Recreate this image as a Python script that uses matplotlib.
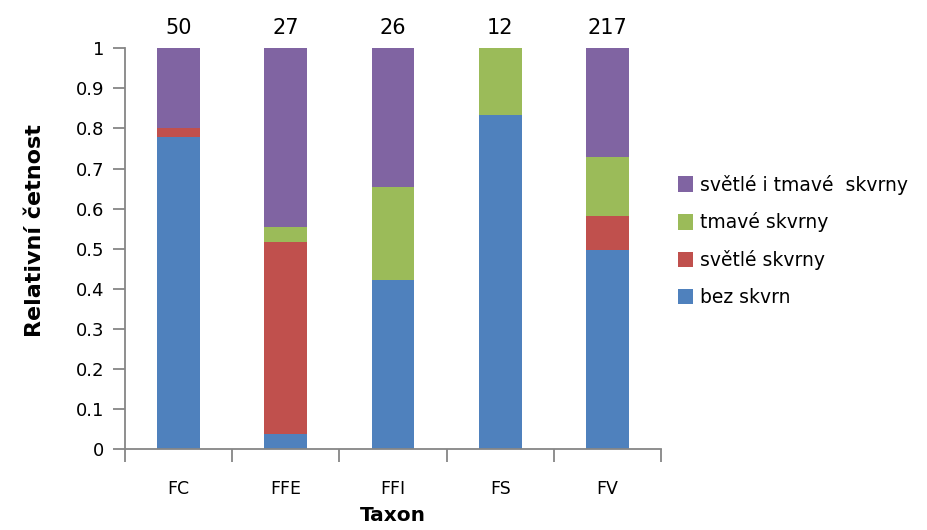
import numpy as np
import matplotlib.pyplot as plt

plt.rcParams['font.family'] = ['DejaVu Sans']

# data
taxa = ['FC', 'FFE', 'FFI', 'FS', 'FV']
totals = [50, 27, 26, 12, 217]
bez = [0.78, 0.037, 0.423, 0.833, 0.498]
svetle = [0.02, 0.481, 0.0, 0.0, 0.083]
tmave = [0.0, 0.037, 0.231, 0.167, 0.147]
obe = [0.2, 0.445, 0.346, 0.0, 0.272]

series = [
    ('bez skvrn', bez, '#4F81BD'),
    ('světlé skvrny', svetle, '#C0504D'),
    ('tmavé skvrny', tmave, '#9BBB59'),
    ('světlé i tmavé  skvrny', obe, '#8064A2'),
]

fig = plt.figure(figsize=(9.28, 5.30), dpi=100)
ax = fig.add_axes([0.1347, 0.1523, 0.5776, 0.7566])

x = np.arange(len(taxa))
bottom = np.zeros(len(taxa))
handles = []
for name, vals, col in series:
    b = ax.bar(x, vals, 0.4, bottom=bottom, color=col, label=name)
    handles.append(b)
    bottom += np.array(vals)

# counts above bars
for xi, n in zip(x, totals):
    ax.text(xi, 1.025, str(n), ha='center', va='bottom', fontsize=15)

ax.set_xlim(-0.5, 4.5)
ax.set_ylim(0, 1)
ax.set_yticks(np.arange(0, 1.01, 0.1))
ax.set_yticklabels(['0', '0.1', '0.2', '0.3', '0.4', '0.5', '0.6', '0.7', '0.8', '0.9', '1'])
ax.set_xticks(x)
ax.set_xticklabels(taxa)
ax.set_xticks(np.arange(-0.5, 4.6, 1), minor=True)
ax.tick_params(axis='x', which='major', length=0, pad=22, labelsize=12.5)
ax.tick_params(axis='x', which='minor', length=9, width=1.3, color='#868686')
ax.tick_params(axis='y', length=9, width=1.3, color='#868686', labelsize=13, pad=6)

for s in ['top', 'right']:
    ax.spines[s].set_visible(False)
for s in ['left', 'bottom']:
    ax.spines[s].set_color('#868686')
    ax.spines[s].set_linewidth(1.3)

ax.set_xlabel('Taxon', fontsize=14.5, fontweight='bold', labelpad=6)
ax.set_ylabel('Relativní četnost', fontsize=16, fontweight='bold')
ax.yaxis.set_label_coords(-0.15, 0.545)

leg = ax.legend(handles[::-1], [s[0] for s in series][::-1],
                loc='center left', bbox_to_anchor=(1.0, 0.52), frameon=False,
                fontsize=13.5, handlelength=0.8, handleheight=0.9,
                labelspacing=0.95, handletextpad=0.4)

plt.savefig('out.png', dpi=100)
